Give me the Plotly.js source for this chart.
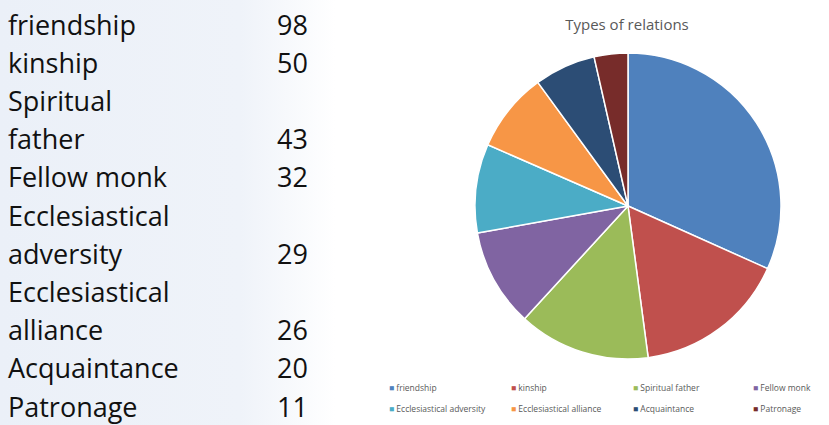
<!DOCTYPE html>
<html>
<head>
<meta charset="utf-8">
<script src="https://cdn.plot.ly/plotly-3.0.1.min.js"></script>
<style>
  html, body { margin:0; padding:0; background:#ffffff; }
  #wrap { position:relative; width:829px; height:425px;
    background: linear-gradient(to right, #ebf0f8 0px, #eff3f9 240px, #ffffff 335px, #ffffff 829px); }
  #chart { position:absolute; left:0; top:0; width:829px; height:425px; }
</style>
</head>
<body>
<div id="wrap"><div id="chart"></div></div>
<script>
// ---- data ----
const categories = ["friendship", "kinship", "Spiritual father", "Fellow monk",
  "Ecclesiastical adversity", "Ecclesiastical alliance", "Acquaintance", "Patronage"];
const counts = [98, 50, 43, 32, 29, 26, 20, 11];
const tableLines = [["friendship"], ["kinship"], ["Spiritual", "father"], ["Fellow monk"],
  ["Ecclesiastical", "adversity"], ["Ecclesiastical", "alliance"], ["Acquaintance"], ["Patronage"]];
const sliceColors = ["#4F81BD", "#C0504D", "#9BBB59", "#8064A2", "#4BACC6", "#F79646", "#2C4D75", "#772C2A"];
const chartTitle = "Types of relations";

// ---- layout helpers ----
const W = 829, H = 425;
const px = x => x / W;
const py = y => 1 - y / H;

const annotations = [];
// table on the left
const rowTop = 24, rowStep = 38.2;
let row = 0;
tableLines.forEach((lines, i) => {
  lines.forEach((ln, j) => {
    const y = rowTop + row * rowStep;
    annotations.push({xref:'paper', yref:'paper', x:px(6), y:py(y), xanchor:'left', yanchor:'middle',
      text: ln, showarrow:false, font:{family:'Open Sans, sans-serif', size:27, color:'#111111'}});
    if (j === lines.length - 1) {
      annotations.push({xref:'paper', yref:'paper', x:px(310), y:py(y), xanchor:'right', yanchor:'middle',
        text: String(counts[i]), showarrow:false, font:{family:'Open Sans, sans-serif', size:27, color:'#111111'}});
    }
    row++;
  });
});

// legend (drawn as annotations, 4 columns x 2 rows)
const legCols = [387, 509, 631, 751];
const legRows = [387, 408];
categories.forEach((c, i) => {
  annotations.push({xref:'paper', yref:'paper', x:px(legCols[i % 4]), y:py(legRows[Math.floor(i / 4)]),
    xanchor:'left', yanchor:'middle', showarrow:false,
    text: '<span style="color:' + sliceColors[i] + '">■</span> ' + c,
    font:{family:'Open Sans, sans-serif', size:8.5, color:'#595959'}});
});

const data = [{
  type:'pie', labels: categories, values: counts, sort:false, direction:'clockwise', rotation:0,
  marker:{colors: sliceColors, line:{color:'#ffffff', width:1.5}},
  textinfo:'none', hoverinfo:'label+value', showlegend:false,
  domain:{x:[px(475), px(781)], y:[py(359), py(53)]}
}];

const layout = {
  width: W, height: H, margin:{l:0, r:0, t:0, b:0},
  paper_bgcolor:'rgba(0,0,0,0)', plot_bgcolor:'rgba(0,0,0,0)',
  title:{text: chartTitle, x: px(627), xanchor:'center', y: py(25), yanchor:'middle',
    font:{family:'Open Sans, sans-serif', size:15, color:'#595959'}},
  showlegend:false,
  annotations: annotations
};

Plotly.newPlot('chart', data, layout, {displayModeBar:false, staticPlot:true});
</script>
</body>
</html>
